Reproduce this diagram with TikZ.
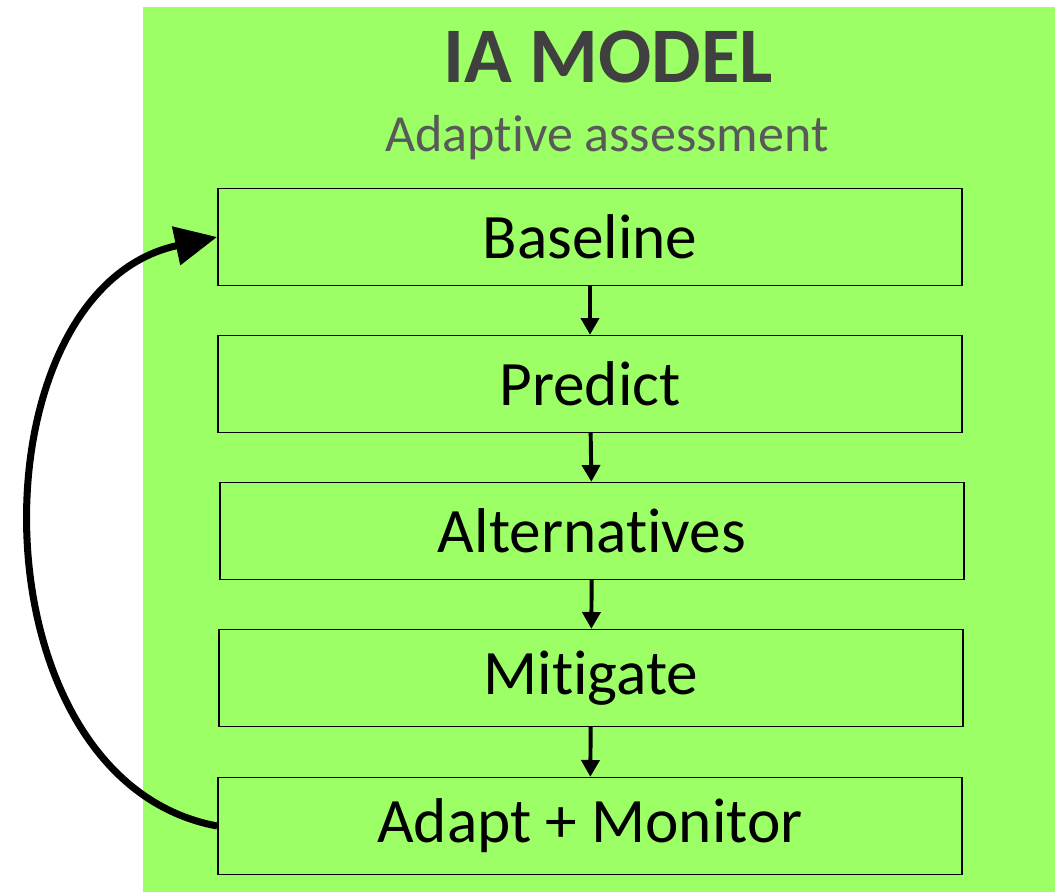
\documentclass[tikz,border=0pt]{standalone}
\usepackage{fontspec}
\setmainfont[Ligatures={NoCommon,NoRequired,NoContextual}]{Carlito}
\usetikzlibrary{arrows.meta, positioning}
\definecolor{iagreen}{RGB}{156,255,102}
\definecolor{titlegray}{RGB}{64,64,64}
\definecolor{subgray}{RGB}{89,89,89}
\tikzstyle{stage} = [rectangle, text centered, draw=black, line width=1.1pt,
	minimum width=18.6cm, minimum height=2.42cm, font=\fontsize{45}{49}\selectfont]
\tikzstyle{arrow} = [-{Triangle[length=0.42cm, width=0.45cm]}, line width=2.8pt]
\tikzstyle{loop} = [-{Triangle[length=1.05cm, width=0.95cm]}, line width=5pt]

\begin{document}
\begin{tikzpicture}[x=0.025cm, y=-0.025cm]
	\useasboundingbox (0,0) rectangle (1061,892);

	% set up background
	\fill [iagreen] (143,7) rectangle (1055,892);
	\node (title) [text=titlegray, font=\fontsize{56}{60}\selectfont\bfseries, anchor=base] at (608,83) {IA MODEL};
	\node (sub) [text=subgray, font=\fontsize{37}{41}\selectfont, anchor=base] at (607,152) {Adapt\kern0pt ive assessment};

	% set up nodes
	\node (baseline) [stage] at (590,237) {Baseline};
	\node (predict) [stage] at (590,384) {Predict};
	\node (alt) [stage] at (592,531) {Alternat\kern0pt ives};
	\node (mitigate) [stage] at (591,678) {Mit\kern0pt igate};
	\node (adapt) [stage] at (590,826) {Adapt + Monitor};

	% set up arrows between nodes
	\draw [arrow] (baseline) -- (predict);
	\draw [arrow] (predict) -- (alt);
	\draw [arrow] (alt) -- (mitigate);
	\draw [arrow] (mitigate) -- (adapt);
	\draw [loop] (adapt.west) .. controls (-30,780) and (-30,290) .. (baseline.west);

\end{tikzpicture}
\end{document}
